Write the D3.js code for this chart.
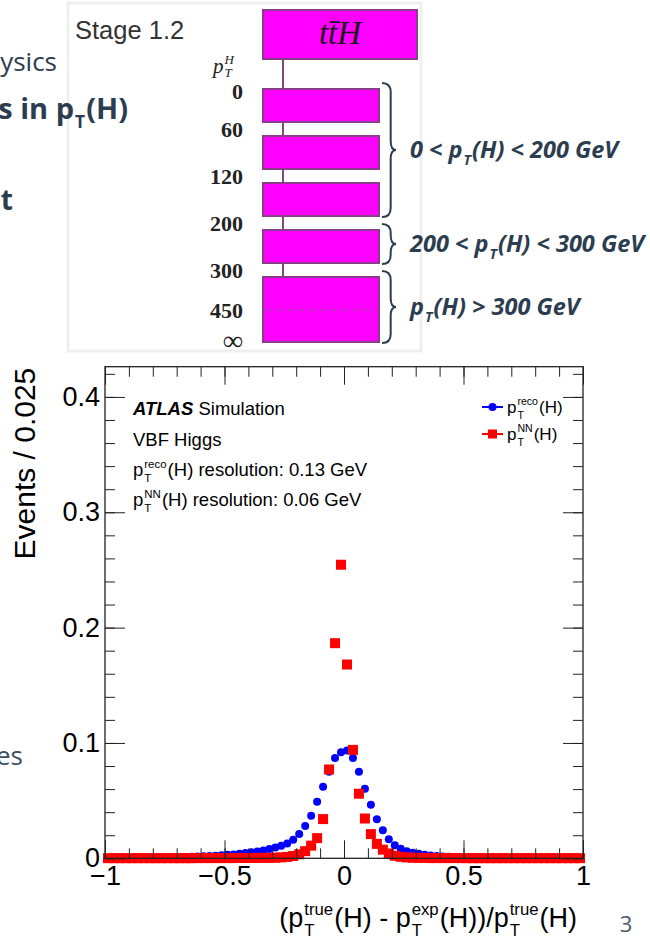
<!DOCTYPE html>
<html>
<head>
<meta charset="utf-8">
<title>pT(H) resolution</title>
<script src="https://cdn.jsdelivr.net/npm/d3@7"></script>
<style>
  body { margin: 0; background: #fff; }
  svg { display: block; }
</style>
</head>
<body>
<div id="root"></div>
<script>
// ---- histogram: 80 bins of 0.025 between -1 and 1
const binCenters = [
  -0.9875, -0.9625, -0.9375, -0.9125, -0.8875, -0.8625, -0.8375, -0.8125, -0.7875, -0.7625,
  -0.7375, -0.7125, -0.6875, -0.6625, -0.6375, -0.6125, -0.5875, -0.5625, -0.5375, -0.5125,
  -0.4875, -0.4625, -0.4375, -0.4125, -0.3875, -0.3625, -0.3375, -0.3125, -0.2875, -0.2625,
  -0.2375, -0.2125, -0.1875, -0.1625, -0.1375, -0.1125, -0.0875, -0.0625, -0.0375, -0.0125,
  0.0125, 0.0375, 0.0625, 0.0875, 0.1125, 0.1375, 0.1625, 0.1875, 0.2125, 0.2375,
  0.2625, 0.2875, 0.3125, 0.3375, 0.3625, 0.3875, 0.4125, 0.4375, 0.4625, 0.4875,
  0.5125, 0.5375, 0.5625, 0.5875, 0.6125, 0.6375, 0.6625, 0.6875, 0.7125, 0.7375,
  0.7625, 0.7875, 0.8125, 0.8375, 0.8625, 0.8875, 0.9125, 0.9375, 0.9625, 0.9875
];
// pT reco (blue circles)
const recoEvents = [
  0.0002, 0.0002, 0.0003, 0.0003, 0.0003, 0.0004, 0.0004, 0.0005, 0.0006, 0.0007,
  0.0008, 0.0009, 0.0010, 0.0011, 0.0013, 0.0015, 0.0017, 0.0020, 0.0023, 0.0026,
  0.0030, 0.0034, 0.0039, 0.0045, 0.0052, 0.0059, 0.0068, 0.0080, 0.0094, 0.0108,
  0.0128, 0.0160, 0.0210, 0.0280, 0.0368, 0.0490, 0.0620, 0.0750, 0.0870, 0.0920,
  0.0935, 0.0870, 0.0750, 0.0604, 0.0465, 0.0338, 0.0243, 0.0165, 0.0113, 0.0083,
  0.0062, 0.0049, 0.0039, 0.0031, 0.0025, 0.0020, 0.0016, 0.0013, 0.0010, 0.0008,
  0.0007, 0.0006, 0.0005, 0.0004, 0.0004, 0.0003, 0.0003, 0.0002, 0.0002, 0.0002,
  0.0002, 0.0001, 0.0001, 0.0001, 0.0001, 0.0001, 0.0001, 0.0001, 0.0001, 0.0001
];
// pT NN (red squares)
const nnEvents = [
  0.0001, 0.0001, 0.0001, 0.0001, 0.0001, 0.0001, 0.0001, 0.0001, 0.0001, 0.0001,
  0.0001, 0.0001, 0.0001, 0.0001, 0.0001, 0.0002, 0.0002, 0.0002, 0.0002, 0.0002,
  0.0002, 0.0002, 0.0003, 0.0003, 0.0003, 0.0003, 0.0004, 0.0004, 0.0005, 0.0008,
  0.0012, 0.0020, 0.0035, 0.0062, 0.0110, 0.0175, 0.0340, 0.0770, 0.1865, 0.2545,
  0.1680, 0.0940, 0.0560, 0.0345, 0.0210, 0.0125, 0.0075, 0.0042, 0.0022, 0.0013,
  0.0008, 0.0005, 0.0004, 0.0003, 0.0002, 0.0002, 0.0002, 0.0002, 0.0002, 0.0002,
  0.0001, 0.0001, 0.0001, 0.0001, 0.0001, 0.0001, 0.0001, 0.0001, 0.0001, 0.0001,
  0.0001, 0.0001, 0.0001, 0.0001, 0.0001, 0.0001, 0.0001, 0.0001, 0.0001, 0.0001
];
const xTickValues = [-1, -0.5, 0, 0.5, 1];
const xTickLabels = ['\u22121', '\u22120.5', '0', '0.5', '1'];
const yTickValues = [0, 0.1, 0.2, 0.3, 0.4];
const yTickLabels = ['0', '0.1', '0.2', '0.3', '0.4'];

// ---- STXS stage 1.2 ttH diagram
const ptEdges = ['0', '60', '120', '200', '300', '450', '\u221e'];
const stxsBins = [[0, 1], [1, 2], [2, 3], [3, 4], [4, 6]];   // edge index ranges
const braceBins = [[0, 2], [3, 3], [4, 4]];                  // bin index ranges
const braceTexts = [
  ['0 < p', { sub: 'T' }, '(H) < 200 GeV'],
  ['200 < p', { sub: 'T' }, '(H) < 300 GeV'],
  ['p', { sub: 'T' }, '(H) > 300 GeV']
];

const W = 650, H = 946;
const slate = '#2c3d4f';
const svg = d3.select('#root').append('svg').attr('width', W).attr('height', H);

// text with stacked sub/superscripts, pieces placed one after another
function richText(parent, x, y, parts, size, opt = {}) {
  const g = parent.append('g')
    .style('font-family', opt.font || 'Liberation Sans, Arial, sans-serif')
    .attr('fill', opt.fill || '#000');
  if (opt.weight) g.style('font-weight', opt.weight);
  if (opt.italic) g.style('font-style', 'italic');
  const small = size * (opt.scale || 0.62);
  let cx = 0;
  parts.forEach(p => {
    if (typeof p === 'string') p = { t: p };
    if (p.t !== undefined) {
      const t = g.append('text').attr('x', cx).attr('y', 0)
        .style('font-size', size + 'px').style('white-space', 'pre').text(p.t);
      if (p.bold) t.style('font-weight', 'bold');
      if (p.italic) t.style('font-style', 'italic');
      cx += t.node().getComputedTextLength();
    } else {
      let w = 0;
      if (p.sup) {
        const s = g.append('text').attr('x', cx + 1).attr('y', -size * (opt.up || 0.42))
          .style('font-size', small + 'px').text(p.sup);
        w = Math.max(w, s.node().getComputedTextLength());
      }
      if (p.sub) {
        const s = g.append('text').attr('x', cx + 1).attr('y', size * (opt.down || 0.3))
          .style('font-size', small + 'px').text(p.sub);
        w = Math.max(w, s.node().getComputedTextLength());
      }
      cx += w + 2;
    }
  });
  const dx = opt.anchor === 'end' ? -cx : (opt.anchor === 'middle' ? -cx / 2 : 0);
  g.attr('transform', `translate(${x + dx},${y})`);
  return g;
}

// ---- pasted panel
svg.append('rect').attr('x', 68).attr('y', 3).attr('width', 353).attr('height', 348)
  .attr('fill', '#fff').attr('stroke', '#efefef').attr('stroke-width', 3);

// slide text cut off on the left
const slideFont = 'Open Sans, Noto Sans, sans-serif';
richText(svg, 57, 71, ['Physics'], 26, { anchor: 'end', font: slideFont, fill: slate });
richText(svg, 128, 119, ['bins in p', { sub: 'T' }, '(H)'], 29,
  { anchor: 'end', font: slideFont, fill: slate, weight: 'bold', scale: 0.6, down: 0.32 });
richText(svg, 13, 210, ['ct'], 28, { anchor: 'end', font: slideFont, fill: slate, weight: 'bold' });
richText(svg, 23, 765, ['ces'], 26, { anchor: 'end', font: slideFont, fill: '#3e4f60' });

// ---- diagram
const diag = svg.append('g');
const serif = 'Liberation Serif, DejaVu Serif, serif';
const rowY = d3.scaleLinear().domain([0, 1]).range([89, 136]);
const boxX = 263, boxW = 116, boxH = 33;
const binTop = b => rowY(stxsBins[b][0]);
const binBottom = b => rowY(stxsBins[b][0]) + boxH + (stxsBins[b][1] - stxsBins[b][0] - 1) * (boxH - 1);

diag.append('text').attr('x', 75).attr('y', 39)
  .style('font-family', 'Liberation Sans, Arial, sans-serif').style('font-size', '25.5px')
  .attr('fill', '#333').text('Stage 1.2');

// connector
diag.append('line').attr('x1', boxX + 20).attr('x2', boxX + 20)
  .attr('y1', 59).attr('y2', binTop(stxsBins.length - 1))
  .attr('stroke', '#7b4b7b').attr('stroke-width', 2);

// ttH box
diag.append('rect').attr('x', boxX).attr('y', 10).attr('width', 154).attr('height', 49)
  .attr('fill', '#ff00ff').attr('stroke', '#8a3d8a').attr('stroke-width', 2);
diag.append('text').attr('x', boxX + 77).attr('y', 44).attr('text-anchor', 'middle')
  .style('font-family', serif).style('font-style', 'italic').style('font-size', '33px')
  .attr('fill', '#1a1a1a').text('tt\u0304H');

// bin boxes
diag.selectAll('rect.bin').data(stxsBins).join('rect').attr('class', 'bin')
  .attr('x', boxX).attr('y', (d, i) => binTop(i)).attr('width', boxW)
  .attr('height', (d, i) => binBottom(i) - binTop(i))
  .attr('fill', '#ff00ff').attr('stroke', '#8a3d8a').attr('stroke-width', 2);

// internal edges of merged bins (dashed)
stxsBins.forEach((b, i) => {
  for (let e = b[0] + 1; e < b[1]; e++) {
    const yy = rowY(b[0]) + (e - b[0]) * boxH;
    diag.append('line').attr('x1', boxX + 2).attr('x2', boxX + boxW - 2)
      .attr('y1', yy).attr('y2', yy).attr('stroke', '#9b4f9b')
      .attr('stroke-width', 1).attr('stroke-dasharray', '6,5');
  }
});

// pT edge labels
function edgeY(e) {
  const last = stxsBins.length - 1;
  if (e === 0) return binTop(0) + 2;
  if (e === ptEdges.length - 1) return binBottom(last) - 2;
  const bi = stxsBins.findIndex(b => b[0] === e);
  if (bi > 0) return (binBottom(bi - 1) + binTop(bi)) / 2;
  const bm = stxsBins.findIndex(b => b[0] < e && b[1] > e);
  return rowY(stxsBins[bm][0]) + (e - stxsBins[bm][0]) * boxH;
}
diag.selectAll('text.edge').data(ptEdges).join('text').attr('class', 'edge')
  .attr('x', 243).attr('y', (d, i) => edgeY(i)).attr('dy', '0.35em')
  .attr('text-anchor', 'end')
  .style('font-family', serif).style('font-size', (d, i) => i === ptEdges.length - 1 ? '28px' : '22px')
  .style('font-weight', 'bold')
  .attr('fill', '#222').text(d => d);
richText(diag, 213, 73, [{ t: 'p', italic: true }, { sup: 'H', sub: 'T' }], 21,
  { font: serif, fill: '#222', italic: true, up: 0.45, down: 0.2, scale: 0.62 });

// braces
function bracePath(x0, y0, y1, w) {
  const xm = x0 + w * 0.62, ym = (y0 + y1) / 2, r = Math.min(9, (y1 - y0) / 4);
  return `M${x0},${y0} Q${xm},${y0} ${xm},${y0 + r} L${xm},${ym - r} Q${xm},${ym} ${x0 + w},${ym}` +
    ` Q${xm},${ym} ${xm},${ym + r} L${xm},${y1 - r} Q${xm},${y1} ${x0},${y1}`;
}
braceBins.forEach((b, i) => {
  const y0 = binTop(b[0]) - 6, y1 = binBottom(b[1]) + 1;
  diag.append('path').attr('d', bracePath(382, y0, y1, 14))
    .attr('fill', 'none').attr('stroke', slate).attr('stroke-width', 2);
  richText(diag, 410, (y0 + y1) / 2 + 8, braceTexts[i], 23.5,
    { font: slideFont, fill: slate, weight: 'bold', italic: true, scale: 0.6, down: 0.3 });
});

// ---- resolution plot
const plot = { left: 105, right: 583, top: 366.7, bottom: 858.3 };
const x = d3.scaleLinear().domain([-1, 1]).range([plot.left, plot.right]);
const y = d3.scaleLinear().domain([0, 0.4262]).range([plot.bottom, plot.top]);
const chart = svg.append('g').style('font-family', 'Liberation Sans, Arial, Helvetica, sans-serif');

const msize = 10;
chart.selectAll('circle.reco').data(binCenters).join('circle').attr('class', 'reco')
  .attr('cx', d => x(d)).attr('cy', (d, i) => y(recoEvents[i])).attr('r', 4)
  .attr('fill', '#0000ff');
chart.selectAll('rect.nn').data(binCenters).join('rect').attr('class', 'nn')
  .attr('x', d => x(d) - msize / 2).attr('y', (d, i) => y(nnEvents[i]) - msize / 2)
  .attr('width', msize).attr('height', msize).attr('fill', '#ff0000');

// axes: ticks point inwards on all four sides
function styleAxis(g) {
  g.select('.domain').remove();
  g.selectAll('line').attr('stroke', '#222');
  g.selectAll('text').style('font-size', '27px')
    .style('font-family', 'Liberation Sans, Arial, sans-serif').attr('fill', '#000');
}
const axisSpecs = [
  [d3.axisLeft(y), plot.left, 0, y],
  [d3.axisRight(y), plot.right, 0, y],
  [d3.axisBottom(x), 0, plot.bottom, x],
  [d3.axisTop(x), 0, plot.top, x]
];
axisSpecs.forEach(([ax, tx, ty, sc], k) => {
  chart.append('g').attr('transform', `translate(${tx},${ty})`)
    .call(ax.tickValues(sc.ticks(20)).tickSize(-10).tickFormat(''))
    .call(styleAxis);
  const majorVals = sc === y ? yTickValues : xTickValues;
  const majorLabels = sc === y ? yTickLabels : xTickLabels;
  const labelled = k === 0 || k === 2;
  chart.append('g').attr('transform', `translate(${tx},${ty})`)
    .call(ax.tickValues(majorVals).tickSize(sc === y ? -20 : -18)
      .tickPadding(k === 0 ? 5 : 8)
      .tickFormat((d, i) => labelled ? majorLabels[i] : ''))
    .call(styleAxis);
});

chart.append('rect').attr('x', plot.left).attr('y', plot.top)
  .attr('width', plot.right - plot.left).attr('height', plot.bottom - plot.top)
  .attr('fill', 'none').attr('stroke', '#222').attr('stroke-width', 1.3);

// axis titles
chart.append('text').attr('transform', `translate(35,${plot.top + 1}) rotate(-90)`)
  .attr('text-anchor', 'end').style('font-size', '30px').text('Events / 0.025');
richText(chart, 577, 927,
  ['(p', { sup: 'true', sub: 'T' }, '(H) - p', { sup: 'exp', sub: 'T' }, '(H))/p', { sup: 'true', sub: 'T' }, '(H)'],
  27, { anchor: 'end', up: 0.45, down: 0.32 });

// labels inside the frame
richText(chart, 133, 415, [{ t: 'ATLAS', bold: true, italic: true }, ' Simulation'], 18.5);
richText(chart, 133, 446, ['VBF Higgs'], 18.5);
richText(chart, 133, 476, ['p', { sup: 'reco', sub: 'T' }, '(H) resolution: 0.13 GeV'], 18.5, { up: 0.45, down: 0.35 });
richText(chart, 133, 506, ['p', { sup: 'NN', sub: 'T' }, '(H) resolution: 0.06 GeV'], 18.5, { up: 0.45, down: 0.35 });

// legend
const legend = chart.append('g');
const legendRows = [
  { y: 407, parts: ['p', { sup: 'reco', sub: 'T' }, '(H)'], color: '#0000ff', shape: 'circle' },
  { y: 434, parts: ['p', { sup: 'NN', sub: 'T' }, '(H)'], color: '#ff0000', shape: 'square' }
];
legendRows.forEach(r => {
  legend.append('line').attr('x1', 482).attr('x2', 503).attr('y1', r.y).attr('y2', r.y)
    .attr('stroke', r.color).attr('stroke-width', 2);
  if (r.shape === 'circle') {
    legend.append('circle').attr('cx', 492.5).attr('cy', r.y).attr('r', 4).attr('fill', r.color);
  } else {
    legend.append('rect').attr('x', 488).attr('y', r.y - 4.5).attr('width', 9).attr('height', 9).attr('fill', r.color);
  }
  richText(legend, 507, r.y + 6, r.parts, 17, { up: 0.45, down: 0.35 });
});

// slide page number
svg.append('text').attr('x', 626).attr('y', 932).attr('text-anchor', 'middle')
  .style('font-family', slideFont).style('font-size', '22px').attr('fill', '#4a5b6c').text('3');
</script>
</body>
</html>
